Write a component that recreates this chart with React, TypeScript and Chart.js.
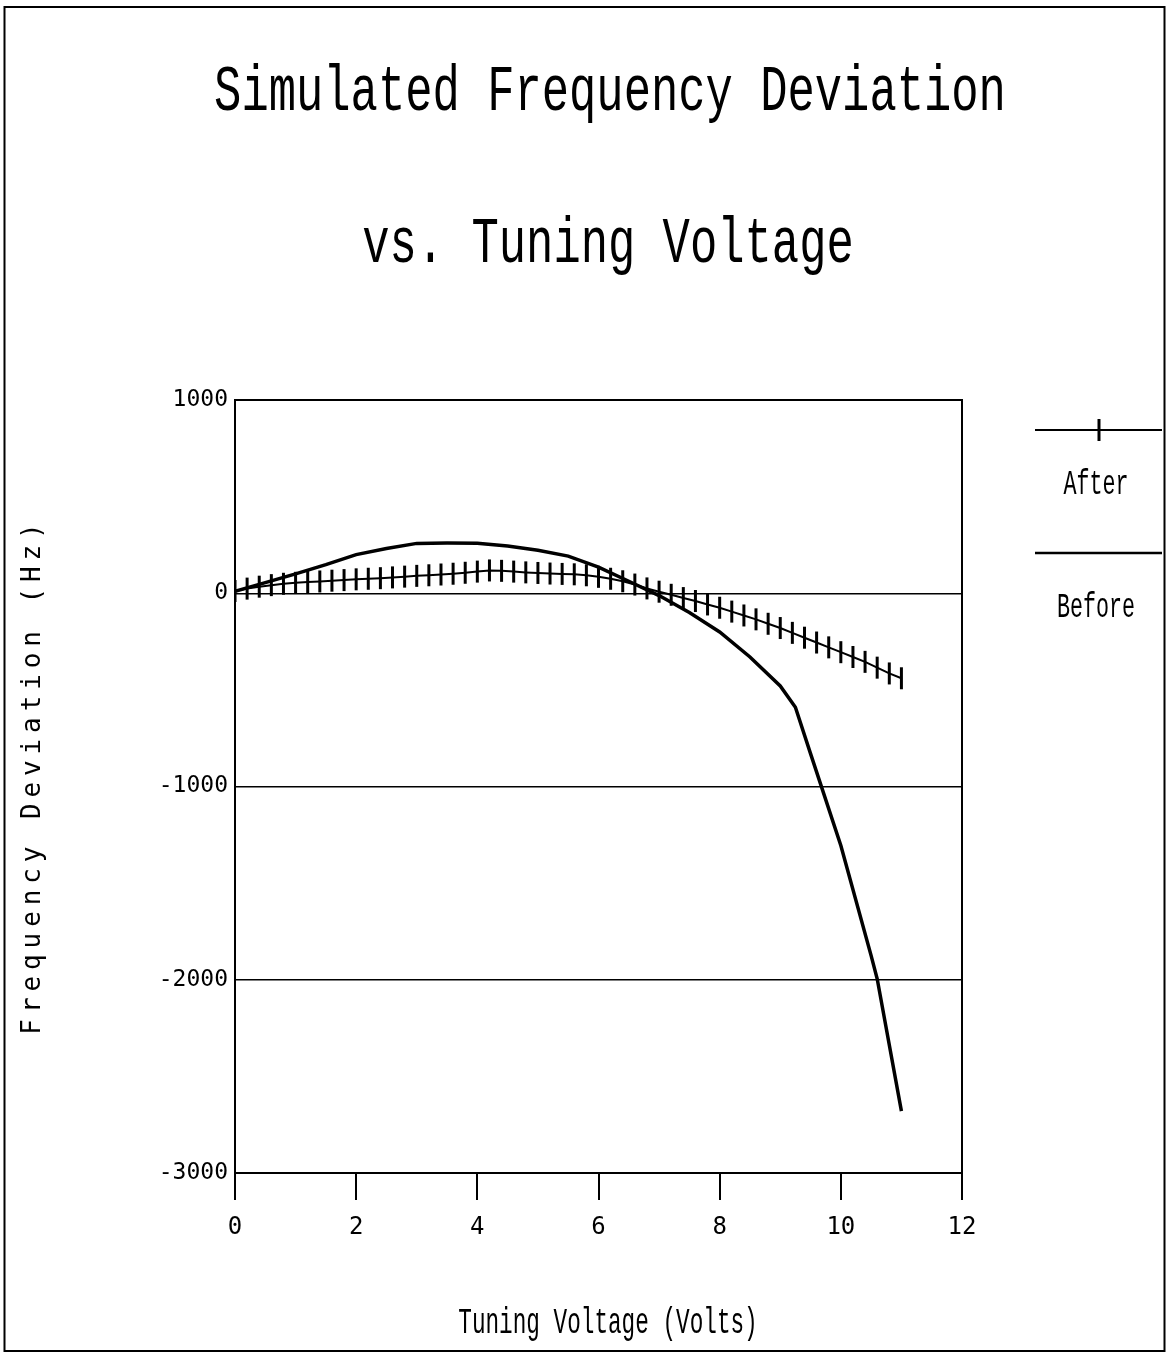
import React, { useEffect, useRef } from "react";
import { Chart, registerables } from "chart.js";

Chart.register(...registerables);

// ---- Data ----
const titleLines = ["Simulated Frequency Deviation", "vs. Tuning Voltage"];
const xAxisTitle = "Tuning Voltage (Volts)";
const yAxisTitle = "Frequency Deviation (Hz)";
const seriesNames = ["After", "Before"];

const xTicks = [0, 2, 4, 6, 8, 10, 12];
const yTicks = [1000, 0, -1000, -2000, -3000];

const afterVoltage = [
  0, 0.2, 0.4, 0.6, 0.8, 1.0, 1.2, 1.4, 1.6, 1.8, 2.0, 2.2, 2.4, 2.6, 2.8, 3.0,
  3.2, 3.4, 3.6, 3.8, 4.0, 4.2, 4.4, 4.6, 4.8, 5.0, 5.2, 5.4, 5.6, 5.8, 6.0, 6.2,
  6.4, 6.6, 6.8, 7.0, 7.2, 7.4, 7.6, 7.8, 8.0, 8.2, 8.4, 8.6, 8.8, 9.0, 9.2, 9.4,
  9.6, 9.8, 10.0, 10.2, 10.4, 10.6, 10.8, 11.0,
];
const afterDeviation = [
  12, 24, 34, 42, 49, 54, 58, 61, 65, 68, 72, 75, 78, 82, 86, 90,
  93, 97, 101, 106, 112, 118, 116, 112, 108, 105, 102, 100, 98, 93, 85, 75,
  62, 45, 25, 8, -8, -25, -40, -58, -75, -95, -115, -135, -158, -180, -205, -230,
  -255, -280, -305, -330, -355, -385, -415, -440,
];

const beforeVoltage = [
  0, 0.5, 1.0, 1.5, 2.0, 2.5, 3.0, 3.5, 4.0, 4.5, 5.0, 5.5, 6.0, 6.5, 7.0, 7.5,
  8.0, 8.5, 9.0, 9.25, 9.5, 10.0, 10.5, 10.6, 11.0,
];
const beforeDeviation = [
  10, 55, 100, 148, 200, 232, 258, 260, 259, 244, 222, 192, 135, 62, -12, -100,
  -200, -330, -480, -590, -830, -1305, -1875, -1995, -2680,
];

// ---- Helpers ----
const MONO = "'DejaVu Sans Mono', monospace";
const THIN_MONO = "'Liberation Mono', 'DejaVu Sans Mono', monospace";

function drawScaledText(
  ctx: CanvasRenderingContext2D,
  text: string,
  cx: number,
  baseline: number,
  size: number,
  scaleX: number
) {
  ctx.save();
  ctx.translate(cx, baseline);
  ctx.scale(scaleX, 1);
  ctx.font = `${size}px ${THIN_MONO}`;
  ctx.fillStyle = "#000";
  ctx.textAlign = "center";
  ctx.textBaseline = "alphabetic";
  ctx.fillText(text, 0, 0);
  ctx.restore();
}

const decorPlugin = {
  id: "decor",
  afterDraw(chart: any) {
    const ctx: CanvasRenderingContext2D = chart.ctx;
    const a = chart.chartArea;
    ctx.save();
    // page frame
    ctx.strokeStyle = "#000";
    ctx.lineWidth = 2;
    ctx.strokeRect(4.5, 7, 1160, 1344);
    // plot frame top/right
    ctx.lineWidth = 2;
    ctx.beginPath();
    ctx.moveTo(a.left, a.top);
    ctx.lineTo(a.right, a.top);
    ctx.lineTo(a.right, a.bottom);
    ctx.stroke();

    // titles
    drawScaledText(ctx, titleLines[0], 610, 110, 65, 0.7);
    drawScaledText(ctx, titleLines[1], 608, 262, 65, 0.7);

    // x axis title
    drawScaledText(ctx, xAxisTitle, 608, 1333, 36, 0.63);

    // y axis title (rotated, spaced)
    ctx.save();
    ctx.translate(33, 779);
    ctx.rotate(-Math.PI / 2);
    ctx.font = `26px ${MONO}`;
    (ctx as any).letterSpacing = "5.9px";
    ctx.fillStyle = "#000";
    ctx.textAlign = "center";
    ctx.textBaseline = "middle";
    ctx.fillText(yAxisTitle, 3, 0);
    ctx.restore();

    // legend
    ctx.strokeStyle = "#000";
    ctx.lineWidth = 2;
    ctx.beginPath();
    ctx.moveTo(1035, 430);
    ctx.lineTo(1162, 430);
    ctx.stroke();
    ctx.lineWidth = 3;
    ctx.beginPath();
    ctx.moveTo(1099, 419);
    ctx.lineTo(1099, 441);
    ctx.stroke();
    drawScaledText(ctx, seriesNames[0], 1096, 494, 35, 0.62);

    ctx.lineWidth = 2.5;
    ctx.beginPath();
    ctx.moveTo(1035, 553);
    ctx.lineTo(1162, 553);
    ctx.stroke();
    drawScaledText(ctx, seriesNames[1], 1096, 617, 35, 0.62);
    ctx.restore();
  },
};

export default function App() {
  const ref = useRef<HTMLCanvasElement | null>(null);

  useEffect(() => {
    if (!ref.current) return;
    const chart = new Chart(ref.current, {
      type: "line",
      data: {
        datasets: [
          {
            label: seriesNames[0],
            data: afterVoltage.map((v, i) => ({ x: v, y: afterDeviation[i] })),
            borderColor: "#000",
            backgroundColor: "#000",
            borderWidth: 2,
            pointStyle: "line",
            pointRotation: 90,
            pointRadius: 11,
            pointBorderWidth: 3,
            pointBorderColor: "#000",
            fill: false,
            tension: 0,
          },
          {
            label: seriesNames[1],
            data: beforeVoltage.map((v, i) => ({ x: v, y: beforeDeviation[i] })),
            borderColor: "#000",
            backgroundColor: "#000",
            borderWidth: 3.5,
            pointRadius: 0,
            fill: false,
            tension: 0,
          },
        ],
      },
      options: {
        responsive: false,
        animation: false,
        events: [],
        layout: { padding: { left: 0, top: 400, right: 207, bottom: 0 } },
        plugins: {
          legend: { display: false },
          title: { display: false },
          tooltip: { enabled: false },
        },
        scales: {
          x: {
            type: "linear",
            min: 0,
            max: 12,
            afterFit: (s: any) => {
              s.height = 180;
            },
            afterBuildTicks: (s: any) => {
              s.ticks = xTicks.map((v) => ({ value: v }));
            },
            ticks: {
              color: "#000",
              font: { family: MONO, size: 24 },
              padding: 13,
              maxRotation: 0,
              autoSkip: false,
              callback: (v: any) => String(v),
            },
            grid: {
              drawOnChartArea: false,
              drawTicks: true,
              tickLength: 27,
              color: "#000",
              lineWidth: 2,
            },
            border: { display: true, color: "#000", width: 2 },
          },
          y: {
            type: "linear",
            min: -3000,
            max: 1000,
            afterFit: (s: any) => {
              s.width = 235;
            },
            afterBuildTicks: (s: any) => {
              s.ticks = yTicks.map((v) => ({ value: v }));
            },
            ticks: {
              color: "#000",
              font: { family: MONO, size: 23 },
              padding: 7,
              autoSkip: false,
              callback: (v: any) => String(v),
            },
            grid: {
              drawOnChartArea: true,
              drawTicks: false,
              color: "#000",
              lineWidth: 1.5,
            },
            border: { display: true, color: "#000", width: 2 },
          },
        },
      },
      plugins: [decorPlugin],
    });
    return () => chart.destroy();
  }, []);

  return (
    <div style={{ position: "absolute", left: 0, top: 0, width: 1169, height: 1353, background: "#fff" }}>
      <canvas ref={ref} width={1169} height={1353} style={{ display: "block", width: 1169, height: 1353 }} />
    </div>
  );
}
